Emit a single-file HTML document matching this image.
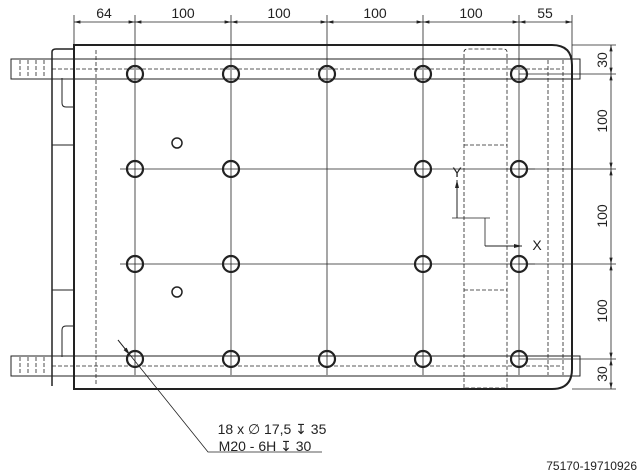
<!DOCTYPE html><html><head><style>body{margin:0;background:#fff}svg{display:block}text{font-family:"Liberation Sans","DejaVu Sans",sans-serif;fill:#222}</style></head><body>
<svg width="640" height="474" viewBox="0 0 640 474" xmlns="http://www.w3.org/2000/svg">
<defs><marker id="a" markerWidth="8" markerHeight="6" refX="8" refY="3" orient="auto-start-reverse"><path d="M0,1 L8,3 L0,5z" fill="#222"/></marker></defs>
<g stroke="#222" fill="none">
<path d="M74,389 V45 H552 Q572,45 572,65 V369 Q572,389 552,389 Z" stroke-width="2"/>
<path d="M52,386 V52 Q52,49 56,49 H74" stroke-width="1.5"/>
<line x1="52" y1="145" x2="74" y2="145" stroke-width="1"/>
<line x1="52" y1="290" x2="74" y2="290" stroke-width="1"/>
<path d="M62,78 V103 Q62,107 66,107 H74" stroke-width="1"/>
<path d="M62,357 V330 Q62,326 66,326 H74" stroke-width="1"/>
<rect x="11" y="59" width="569" height="20" stroke-width="1"/>
<rect x="11" y="356" width="569" height="20" stroke-width="1"/>
<g stroke-dasharray="4,2" stroke-width="0.8">
<line x1="52" y1="69" x2="560" y2="69"/><line x1="52" y1="366" x2="560" y2="366"/>
<line x1="96" y1="50" x2="96" y2="386"/>
<path d="M464,388 V52 Q464,49 468,49 H503 Q507,49 507,52 V388 Z"/>
<line x1="464" y1="145" x2="507" y2="145"/><line x1="464" y1="290" x2="507" y2="290"/>
<line x1="548" y1="60" x2="548" y2="375"/><line x1="563" y1="60" x2="563" y2="375"/>
<line x1="20" y1="60" x2="20" y2="78"/><line x1="28" y1="60" x2="28" y2="78"/><line x1="36" y1="60" x2="36" y2="78"/><line x1="44" y1="60" x2="44" y2="78"/>
<line x1="20" y1="357" x2="20" y2="375"/><line x1="28" y1="357" x2="28" y2="375"/><line x1="36" y1="357" x2="36" y2="375"/><line x1="44" y1="357" x2="44" y2="375"/>
</g>
<g stroke-width="0.8">
<line x1="135" y1="15" x2="135" y2="375"/><line x1="231" y1="15" x2="231" y2="375"/><line x1="327" y1="15" x2="327" y2="375"/><line x1="423" y1="15" x2="423" y2="375"/><line x1="519" y1="15" x2="519" y2="375"/>
<line x1="120" y1="169" x2="535" y2="169"/><line x1="120" y1="264" x2="535" y2="264"/>
<line x1="519" y1="74" x2="616" y2="74"/><line x1="519" y1="169" x2="616" y2="169"/><line x1="519" y1="264" x2="616" y2="264"/><line x1="519" y1="359" x2="616" y2="359"/>
<line x1="572" y1="45" x2="616" y2="45"/><line x1="572" y1="389" x2="616" y2="389"/>
<line x1="74" y1="15" x2="74" y2="45"/><line x1="572" y1="15" x2="572" y2="60"/>
</g>
<g stroke-width="0.8" marker-start="url(#a)" marker-end="url(#a)">
<line x1="74" y1="22" x2="135" y2="22"/><line x1="135" y1="22" x2="231" y2="22"/><line x1="231" y1="22" x2="327" y2="22"/><line x1="327" y1="22" x2="423" y2="22"/><line x1="423" y1="22" x2="519" y2="22"/><line x1="519" y1="22" x2="572" y2="22"/>
<line x1="611" y1="74" x2="611" y2="169"/><line x1="611" y1="169" x2="611" y2="264"/><line x1="611" y1="264" x2="611" y2="359"/>
<line x1="611" y1="45" x2="611" y2="74"/><line x1="611" y1="359" x2="611" y2="389"/>
</g>
<g stroke-width="2.2">
<circle cx="135" cy="74" r="8"/><circle cx="231" cy="74" r="8"/><circle cx="327" cy="74" r="8"/><circle cx="423" cy="74" r="8"/><circle cx="519" cy="74" r="8"/>
<circle cx="135" cy="169" r="8"/><circle cx="231" cy="169" r="8"/><circle cx="423" cy="169" r="8"/><circle cx="519" cy="169" r="8"/>
<circle cx="135" cy="264" r="8"/><circle cx="231" cy="264" r="8"/><circle cx="423" cy="264" r="8"/><circle cx="519" cy="264" r="8"/>
<circle cx="135" cy="359" r="8"/><circle cx="231" cy="359" r="8"/><circle cx="327" cy="359" r="8"/><circle cx="423" cy="359" r="8"/><circle cx="519" cy="359" r="8"/>
</g>
<circle cx="177" cy="143" r="5" stroke-width="1.5"/><circle cx="177" cy="292" r="5" stroke-width="1.5"/>
<line x1="457" y1="218" x2="457" y2="180" stroke-width="1" marker-end="url(#a)"/>
<line x1="452" y1="218" x2="490" y2="218" stroke-width="0.8"/>
<line x1="485" y1="218" x2="485" y2="246" stroke-width="0.8"/>
<line x1="485" y1="246" x2="522" y2="246" stroke-width="1" marker-end="url(#a)"/>
<polyline points="118,340 208,452 322,452" stroke-width="0.8"/>
<line x1="118" y1="340" x2="130" y2="355" stroke-width="1" marker-end="url(#a)"/>
</g>
<g font-size="14" text-anchor="middle">
<text x="104" y="18">64</text><text x="183" y="18">100</text><text x="279" y="18">100</text><text x="375" y="18">100</text><text x="471" y="18">100</text><text x="545" y="18">55</text>
<text transform="translate(607,60) rotate(-90)">30</text>
<text transform="translate(607,121) rotate(-90)">100</text>
<text transform="translate(607,216) rotate(-90)">100</text>
<text transform="translate(607,311) rotate(-90)">100</text>
<text transform="translate(607,374) rotate(-90)">30</text>
<text x="457" y="177">Y</text><text x="537" y="250">X</text>
<text x="272" y="434">18 x ∅ 17,5 ↧ 35</text>
<text x="265" y="451">M20 - 6H ↧ 30</text>
</g>
<text x="637" y="470" font-size="12" text-anchor="end" fill="#555">75170-19710926</text>
</svg></body></html>
